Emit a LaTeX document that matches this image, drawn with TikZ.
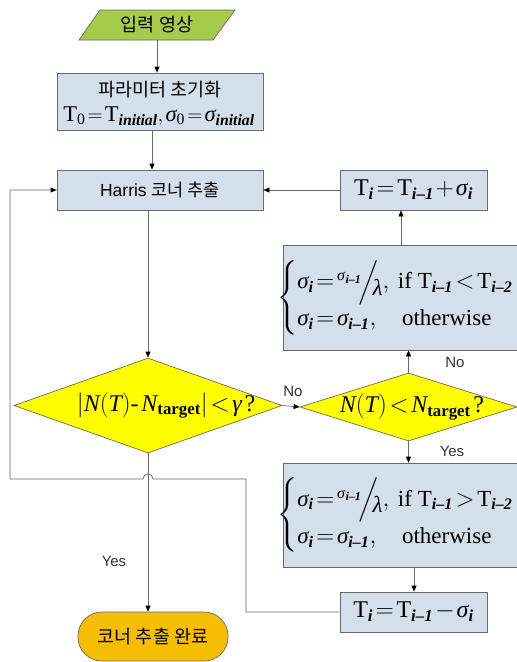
\documentclass[tikz,border=0pt]{standalone}
\usepackage{amsmath}
\usepackage{fontspec}
\setmainfont{Liberation Serif}
\newfontfamily\krf{Noto Sans CJK KR}
\newfontfamily\arf{Liberation Sans}
\usetikzlibrary{arrows.meta,shapes.geometric,calc}
\newcommand{\bsub}[1]{\textbf{\textit{#1}}}
\newcommand{\sg}{\textit{σ}}
\newcommand{\lam}{\textit{λ}}
\newcommand{\gam}{\textit{γ}}
\newcommand{\Rm}[1]{\textrm{#1}}
\newcommand{\slfrac}{\raisebox{0.75ex}{\fontsize{16}{18}\selectfont\sg\raisebox{-0.3ex}{\fontsize{12}{13}\selectfont\bsub{i--1}}}\!\Big/\!\!\raisebox{-0.6ex}{\lam}}
\newcommand{\tightmath}{\thickmuskip=2mu plus 1mu\medmuskip=1.5mu\thinmuskip=2mu}
\definecolor{boxblue}{RGB}{212,223,236}
\definecolor{ingreen}{RGB}{166,202,76}
\definecolor{endgold}{RGB}{245,190,0}
\definecolor{diayellow}{RGB}{255,255,0}
\definecolor{linegray}{RGB}{105,105,105}
\begin{document}
\begin{tikzpicture}[x=1pt,y=-1pt,
  line/.style={draw=linegray, line width=0.7pt},
  arr/.style={line, -{Triangle[length=6pt,width=5pt,color=black]}},
  proc/.style={draw=linegray, fill=boxblue, line width=0.7pt, inner sep=0pt},
  dia/.style={diamond, draw=linegray!80!olive, fill=diayellow, line width=0.7pt, inner sep=0pt},
  lbl/.style={font=\arf\fontsize{15}{17}\selectfont, text=black!80, inner sep=1pt},
  kr/.style={font=\krf\fontsize{18.5}{20}\selectfont},
  mth/.style={font=\fontsize{24}{26}\selectfont\tightmath, inner sep=0pt},
  cse/.style={font=\fontsize{23}{25}\selectfont\tightmath, inner sep=0pt}
]
\useasboundingbox (0,0) rectangle (517,662);
% input
\draw[line, fill=ingreen] (100,10) -- (235,10) -- (213,40) -- (79,40) -- cycle;
\node[kr] (I) at (157,25) {입력 영상};
\coordinate (Ib) at (157,40);
% parameter init
\node[proc, minimum width=206pt, minimum height=57pt] (P) at (160,101.5) {};
\node[kr] (P1) at (160,90) {파라미터 초기화};
\node[mth, font=\fontsize{22.5}{24}\selectfont\tightmath] (P2) at (159,116) {$\Rm{T}_{\Rm{0}}=\Rm{T}_{\bsub{initial}},\sg_{\Rm{0}}=\sg_{\bsub{initial}}$};
% Harris
\node[proc, minimum width=206pt, minimum height=40pt] (H) at (160,190) {\fontsize{17.5}{19}\selectfont\arf Harris \krf 코너 추출};
% T plus
\node[proc, minimum width=147pt, minimum height=40pt, mth] (Tp) at (413.5,190) {$\Rm{T}_{\bsub{i}}=\Rm{T}_{\bsub{i--1}}+\sg_{\bsub{i}}$};
% cases 1
\node[proc, minimum width=235pt, minimum height=105pt] (C1) at (400.5,297.5) {};
\node[cse] (C1t) at (407,297.5) {$\begin{cases}\sg_{\bsub{i}}=\slfrac,\ \Rm{if }\Rm{T}_{\bsub{i--1}}<\Rm{T}_{\bsub{i--2}}\\[6pt] \sg_{\bsub{i}}=\sg_{\bsub{i--1}},\quad\Rm{otherwise}\end{cases}$};
% diamonds
\node[dia, minimum width=268pt, minimum height=95pt] (D1) at (148,405.5) {};
\node[mth] (D1t) at (166,405.5) {$\left|\textit{N}(\textit{T})\Rm{-}\,\textit{N}_{\textbf{target}}\right|<\gam\;\Rm{?}$};
\node[dia, minimum width=217pt, minimum height=68pt] (D2) at (408.5,407) {};
\node[mth] (D2t) at (412,407) {$\textit{N}(\textit{T})<\textit{N}_{\textbf{target}}\;\Rm{?}$};
% cases 2
\node[proc, minimum width=235pt, minimum height=104pt] (C2) at (400.5,515) {};
\node[cse] (C2t) at (407,515) {$\begin{cases}\sg_{\bsub{i}}=\slfrac,\ \Rm{if }\Rm{T}_{\bsub{i--1}}>\Rm{T}_{\bsub{i--2}}\\[6pt] \sg_{\bsub{i}}=\sg_{\bsub{i--1}},\quad\Rm{otherwise}\end{cases}$};
% T minus
\node[proc, minimum width=147pt, minimum height=40pt, mth] (Tm) at (413.5,612) {$\Rm{T}_{\bsub{i}}=\Rm{T}_{\bsub{i--1}}-\sg_{\bsub{i}}$};
% end
\node[draw=linegray, fill=endgold, line width=0.7pt, rounded corners=24pt, minimum width=150pt, minimum height=49pt, kr] (E) at (153,636.5) {코너 추출 완료};
% helper coordinates
\coordinate (c152) at (152,0);
\coordinate (c401) at (401,0);
\coordinate (c414) at (414,0);
% connectors
\draw[arr] (Ib) -- (P.north -| Ib);
\draw[arr] (P.south -| c152) -- (H.north -| c152);
\draw[arr] (H.south -| D1.north) -- (D1.north);
\draw[arr] (D1.east) -- (D2.west);
\node[lbl] (LNo1) at (293,391) {No};
\draw[arr] (D2.north) -- (C1.south -| D2.north);
\node[lbl] (LNo2) at (455,362) {No};
\draw[arr] (C1.north -| c401) -- (Tp.south -| c401);
\draw[arr] (Tp.west) -- (H.east);
\draw[arr] (D2.south) -- (C2.north -| D2.south);
\node[lbl] (LYes1) at (452,451) {Yes};
\draw[arr] (C2.south -| c414) -- (Tm.north -| c414);
\draw[arr] (D1.south) -- (E.north -| D1.south);
\node[lbl] (LYes2) at (114,561) {Yes};
\draw[arr] (Tm.west) -- (246,612) -- (246,479) -- (153,479) arc[start angle=0, end angle=180, radius=5pt] -- (10,479) -- (10,190) -- (H.west);
\end{tikzpicture}
\end{document}
